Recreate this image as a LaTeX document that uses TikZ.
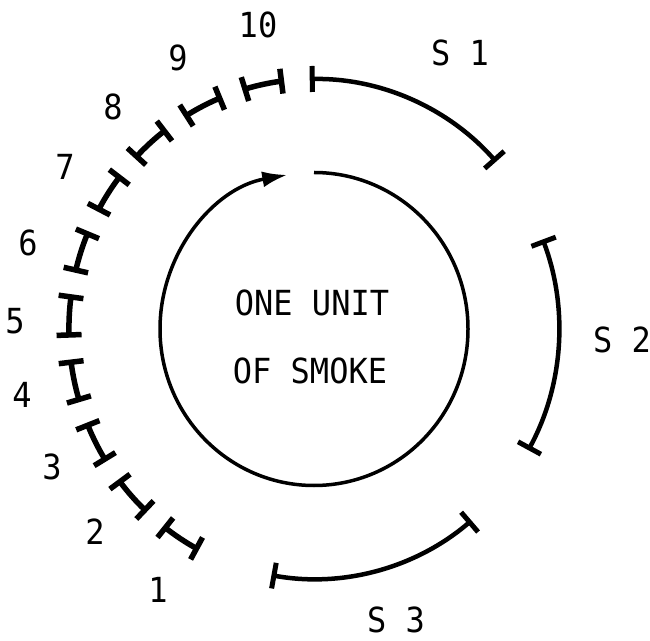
\documentclass[tikz,border=0pt]{standalone}
\usepackage{fontspec}
\setmonofont{DejaVu Sans Mono}
\usetikzlibrary{arrows.meta}
\begin{document}
\begin{tikzpicture}[x=1pt,y=1pt,
  lbl/.style={font=\ttfamily\fontsize{32}{38}\selectfont, inner sep=0pt, yscale=1.08},
  sarc/.style={line width=4.5pt, {Bar[width=26pt,line width=5pt]}-{Bar[width=26pt,line width=5pt]}},
  narc/.style={line width=5.5pt, {Bar[width=25pt,line width=5.5pt]}-{Bar[width=25pt,line width=5.5pt]}},
  innerc/.style={line width=3.5pt, -{Latex[length=25pt,width=16pt]}}]
\useasboundingbox (0,0) rectangle (650,640);
\coordinate (c) at (314,311);
% inner circle with arrow
\draw[innerc] (c) ++(90:154 and 156.5) arc[start angle=90, end angle=-260, x radius=154, y radius=156.5];
\node[lbl] (t1) at (312,337) {ONE UNIT};
\node[lbl] (t2) at (310,269) {OF SMOKE};
% S arcs
\draw[sarc] (c) ++(91:245 and 250) arc[start angle=91, end angle=42, x radius=245, y radius=250];
\draw[sarc] (c) ++(21:245 and 250) arc[start angle=21, end angle=-29, x radius=245, y radius=250];
\draw[sarc] (c) ++(-50:245 and 250) arc[start angle=-50, end angle=-100, x radius=245, y radius=250];
\node[lbl] (s1) at (460,587) {S 1};
\node[lbl] (s2) at (622,300) {S 2};
\node[lbl] (s3) at (396,20) {S 3};
% numbered segments
\foreach \k in {1,...,10}{
  \pgfmathsetmacro{\a}{247-15*\k}
  \pgfmathsetmacro{\b}{257-15*\k}
  \draw[narc] (c) ++(\a:245 and 250) arc[start angle=\a, end angle=\b, x radius=245, y radius=250];
}
\node[lbl] (n1) at (158,50) {1};
\node[lbl] (n2) at (95,108) {2};
\node[lbl] (n3) at (52,173) {3};
\node[lbl] (n4) at (22,245) {4};
\node[lbl] (n5) at (15,319) {5};
\node[lbl] (n6) at (28,397) {6};
\node[lbl] (n7) at (65,473) {7};
\node[lbl] (n8) at (113,533) {8};
\node[lbl] (n9) at (178,582) {9};
\node[lbl] (n10) at (258,615) {10};
\end{tikzpicture}
\end{document}
